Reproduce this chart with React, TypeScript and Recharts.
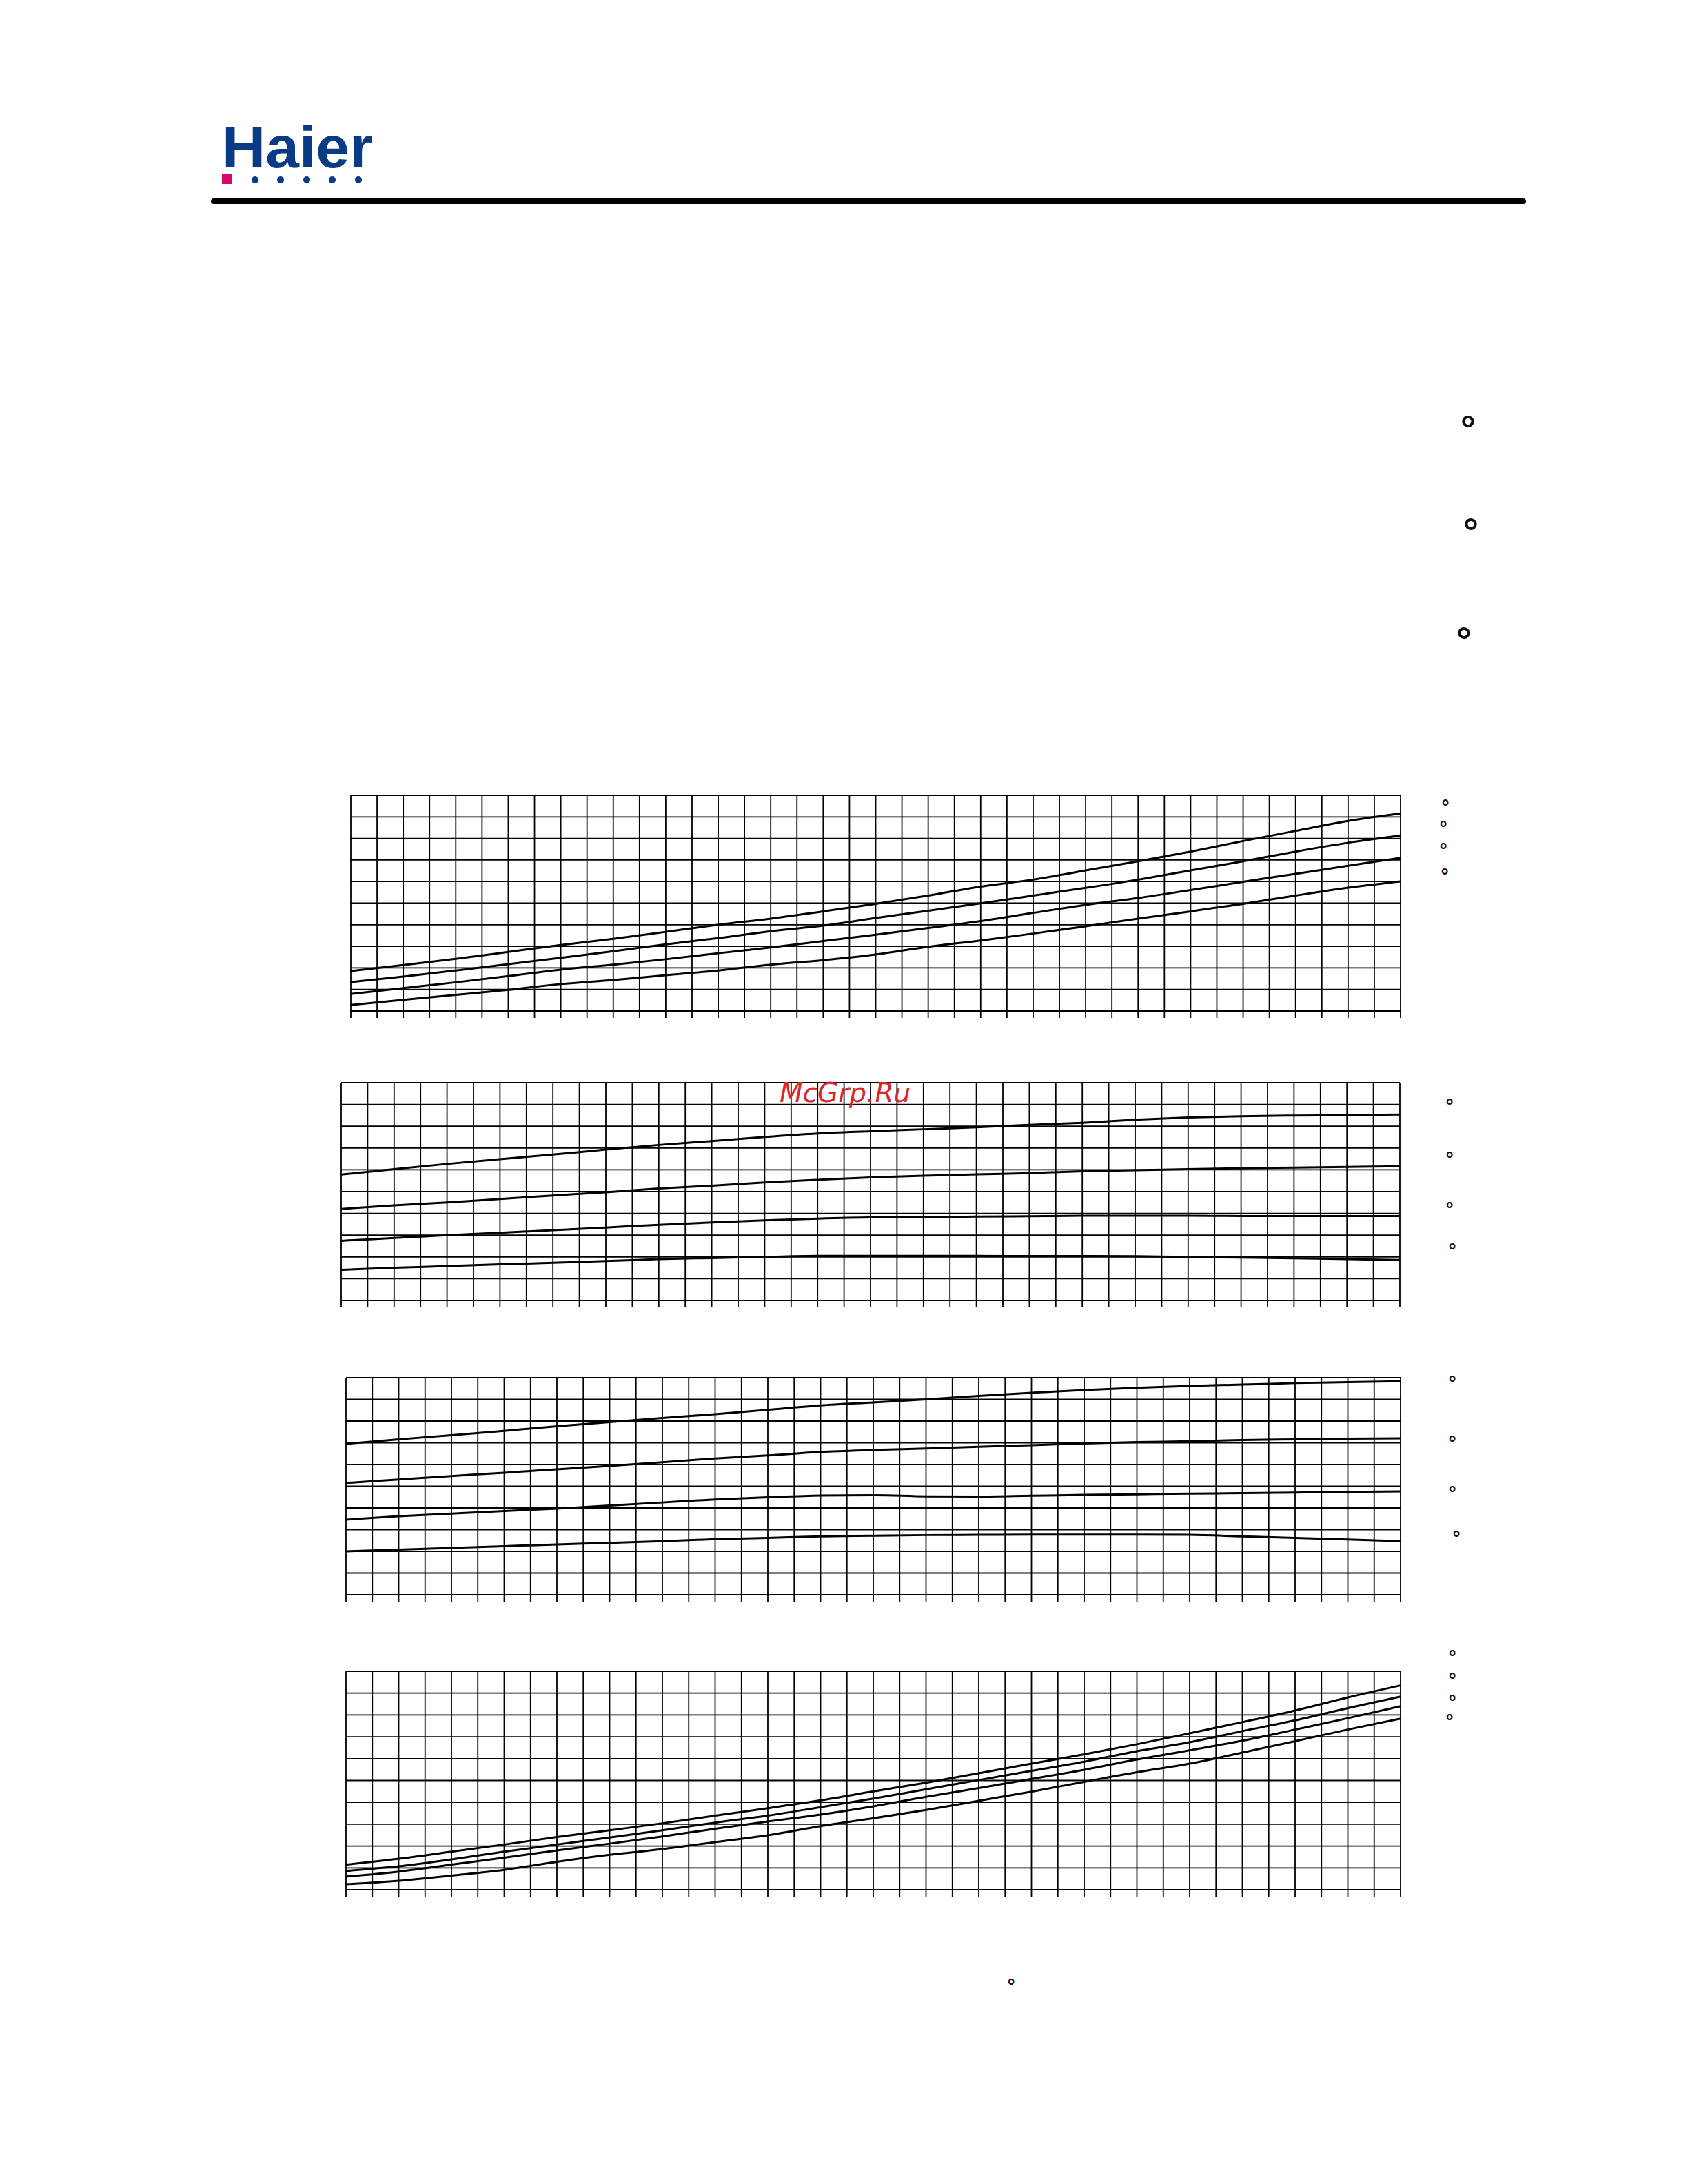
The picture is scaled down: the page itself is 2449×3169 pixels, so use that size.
import { LineChart, Line, XAxis, YAxis, CartesianGrid } from 'recharts'

// x positions of the read points, in grid columns (40 columns per panel)
const xSteps = [0, 2, 4, 6, 8, 10, 12, 14, 16, 18, 20, 22, 24, 26, 28, 30, 32, 34, 36, 38, 40]
const xTicks = Array.from({ length: 41 }, (_, i) => i)
const yTicks = [0, 1, 2, 3, 4, 5, 6, 7, 8, 9, 10]

// panel 1
const p1a = [1.85, 2.13, 2.42, 2.74, 3.06, 3.35, 3.67, 4.0, 4.28, 4.62, 4.97, 5.35, 5.77, 6.09, 6.52, 6.94, 7.39, 7.88, 8.35, 8.81, 9.16]
const p1b = [1.34, 1.6, 1.88, 2.17, 2.47, 2.77, 3.09, 3.38, 3.7, 3.96, 4.31, 4.65, 4.99, 5.35, 5.71, 6.09, 6.52, 6.94, 7.39, 7.8, 8.14]
const p1c = [0.79, 1.06, 1.33, 1.62, 1.92, 2.15, 2.4, 2.68, 2.95, 3.24, 3.54, 3.85, 4.17, 4.55, 4.92, 5.24, 5.61, 5.99, 6.36, 6.73, 7.1]
const p1d = [0.28, 0.52, 0.75, 0.98, 1.25, 1.44, 1.66, 1.88, 2.15, 2.36, 2.62, 2.98, 3.27, 3.59, 3.93, 4.28, 4.62, 4.97, 5.35, 5.72, 6.01]

// panel 2
const p2a = [5.78, 6.03, 6.27, 6.49, 6.7, 6.93, 7.14, 7.32, 7.51, 7.67, 7.77, 7.86, 7.95, 8.06, 8.16, 8.3, 8.4, 8.46, 8.49, 8.51, 8.54]
const p2b = [4.2, 4.37, 4.5, 4.66, 4.82, 4.97, 5.14, 5.27, 5.42, 5.54, 5.65, 5.73, 5.79, 5.85, 5.93, 5.98, 6.03, 6.07, 6.1, 6.13, 6.16]
const p2c = [2.74, 2.87, 3.0, 3.11, 3.23, 3.35, 3.47, 3.58, 3.68, 3.76, 3.81, 3.82, 3.85, 3.87, 3.89, 3.89, 3.89, 3.88, 3.88, 3.88, 3.88]
const p2d = [1.41, 1.5, 1.58, 1.66, 1.73, 1.81, 1.9, 1.95, 2.0, 2.05, 2.05, 2.05, 2.05, 2.04, 2.04, 2.03, 2.0, 1.97, 1.94, 1.9, 1.86]

// panel 3
const p3a = [6.95, 7.16, 7.35, 7.55, 7.76, 7.95, 8.14, 8.32, 8.52, 8.72, 8.86, 9.0, 9.16, 9.3, 9.43, 9.53, 9.62, 9.68, 9.75, 9.79, 9.83]
const p3b = [5.15, 5.31, 5.47, 5.62, 5.78, 5.94, 6.1, 6.28, 6.42, 6.58, 6.67, 6.74, 6.82, 6.89, 6.97, 7.03, 7.07, 7.13, 7.16, 7.19, 7.21]
const p3c = [3.46, 3.62, 3.74, 3.86, 3.97, 4.11, 4.25, 4.39, 4.49, 4.57, 4.59, 4.53, 4.52, 4.56, 4.6, 4.63, 4.66, 4.68, 4.71, 4.74, 4.76]
const p3d = [2.0, 2.08, 2.16, 2.24, 2.32, 2.39, 2.47, 2.56, 2.62, 2.69, 2.72, 2.75, 2.76, 2.77, 2.77, 2.77, 2.76, 2.69, 2.62, 2.55, 2.47]

// panel 4
const p4a = [1.15, 1.42, 1.74, 2.07, 2.41, 2.72, 3.04, 3.39, 3.73, 4.09, 4.5, 4.9, 5.33, 5.77, 6.2, 6.66, 7.16, 7.67, 8.2, 8.8, 9.35]
const p4b = [0.86, 1.07, 1.39, 1.74, 2.07, 2.39, 2.72, 3.07, 3.39, 3.78, 4.17, 4.6, 5.02, 5.44, 5.86, 6.34, 6.75, 7.26, 7.75, 8.31, 8.84]
const p4c = [0.6, 0.83, 1.15, 1.47, 1.8, 2.11, 2.44, 2.79, 3.12, 3.44, 3.82, 4.25, 4.65, 5.07, 5.49, 5.96, 6.38, 6.82, 7.33, 7.85, 8.4]
const p4d = [0.25, 0.41, 0.65, 0.91, 1.28, 1.6, 1.86, 2.18, 2.49, 2.91, 3.27, 3.65, 4.07, 4.49, 4.94, 5.38, 5.77, 6.28, 6.8, 7.33, 7.83]

const panels = [
  { box: { left: 509, right: 2032, top: 1154, bottom: 1467 }, lines: [p1a, p1b, p1c, p1d] },
  { box: { left: 495, right: 2031, top: 1571, bottom: 1887 }, lines: [p2a, p2b, p2c, p2d] },
  { box: { left: 502, right: 2032, top: 1999, bottom: 2314 }, lines: [p3a, p3b, p3c, p3d] },
  { box: { left: 502, right: 2032, top: 2425, bottom: 2742 }, lines: [p4a, p4b, p4c, p4d] },
]

// degree marks beside the panels
const bigMarks = [[2130, 610], [2134, 759], [2124, 917]]
const smallMarks = [
  [2097, 1164], [2094, 1195], [2094, 1227], [2096, 1264],
  [2103, 1598], [2103, 1675], [2103, 1748], [2107, 1808],
  [2107, 2000], [2107, 2087], [2107, 2160], [2113, 2225],
  [2107, 2398], [2107, 2431], [2107, 2463], [2103, 2491],
  [1467, 2875],
]

const keys = ['a', 'b', 'c', 'd']
const blank = () => ''

function Panel({ box, lines }) {
  const padL = 40
  const padR = 20
  const padT = 10
  const axisH = 20
  const rows = xSteps.map((x, i) => ({ x, a: lines[0][i], b: lines[1][i], c: lines[2][i], d: lines[3][i] }))
  return (
    <div style={{ position: 'absolute', left: box.left - padL, top: box.top - padT }}>
      <LineChart
        width={box.right - box.left + padL + padR}
        height={box.bottom - box.top + padT + axisH}
        data={rows}
        margin={{ top: padT, right: padR, left: padL, bottom: 0 }}
      >
        <CartesianGrid stroke="#000" strokeWidth={1.8} />
        <XAxis
          type="number"
          dataKey="x"
          domain={[0, 40]}
          ticks={xTicks}
          interval={0}
          height={axisH}
          tickSize={10}
          tickLine={{ stroke: '#000', strokeWidth: 1.8 }}
          axisLine={{ stroke: '#000', strokeWidth: 2 }}
          tickFormatter={blank}
        />
        <YAxis
          type="number"
          domain={[0, 10]}
          ticks={yTicks}
          interval={0}
          width={0}
          tickSize={9}
          tickLine={{ stroke: '#000', strokeWidth: 2 }}
          axisLine={{ stroke: '#000', strokeWidth: 2 }}
          tickFormatter={blank}
        />
        {keys.map((k) => (
          <Line key={k} dataKey={k} type="monotone" stroke="#000" strokeWidth={3} dot={false} isAnimationActive={false} />
        ))}
      </LineChart>
    </div>
  )
}

export default function App() {
  return (
    <div style={{ position: 'absolute', left: 0, top: 0, width: 2449, height: 3169, background: '#fff', overflow: 'hidden' }}>
      {panels.map((p, i) => (
        <Panel key={i} box={p.box} lines={p.lines} />
      ))}
      <svg width={2449} height={3169} style={{ position: 'absolute', left: 0, top: 0, pointerEvents: 'none' }}>
        {/* logo */}
        <text x={322} y={243} fontFamily="Liberation Sans Narrow, Liberation Sans, Arial, sans-serif" fontWeight="bold" fontSize={86} fill="#0a3c86" textLength={219} lengthAdjust="spacingAndGlyphs">
          Haier
        </text>
        <rect x={322} y={252} width={15} height={15} fill="#d9066b" />
        {[370, 407, 445, 482, 520].map((cx) => (
          <circle key={cx} cx={cx} cy={261} r={5} fill="#0a3c86" />
        ))}
        <line x1={310} y1={292} x2={2210} y2={292} stroke="#000" strokeWidth={8} strokeLinecap="round" />
        {bigMarks.map(([x, y], i) => (
          <text key={'b' + i} x={x} y={y + 32} textAnchor="middle" fontFamily="Liberation Sans, Arial, sans-serif" fontWeight="bold" fontSize={56} fill="#111">
            °
          </text>
        ))}
        {smallMarks.map(([x, y], i) => (
          <text key={'s' + i} x={x} y={y + 16} textAnchor="middle" fontFamily="Liberation Sans, Arial, sans-serif" fontWeight="bold" fontSize={28} fill="#111">
            °
          </text>
        ))}
        <text x={1131} y={1599} fontFamily="DejaVu Sans, sans-serif" fontStyle="italic" fontSize={39} fill="#d8282a">
          McGrp.Ru
        </text>
      </svg>
    </div>
  )
}
